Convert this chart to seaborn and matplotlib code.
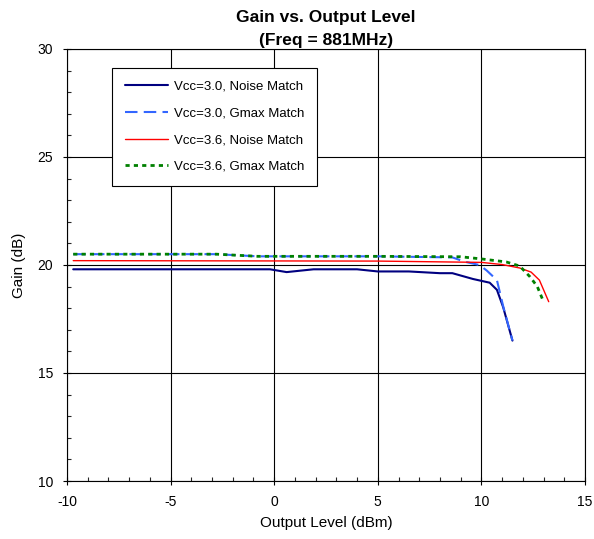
import numpy as np
import pandas as pd
import matplotlib
matplotlib.use("Agg")
import matplotlib.pyplot as plt
import seaborn as sns
from matplotlib.ticker import MultipleLocator

# Vcc=3.0, Noise Match
x_30n = [-9.7, -0.2, 0.6, 1.9, 4.0, 5.0, 6.5, 8.0, 8.6, 9.6, 10.4, 10.75, 11.05, 11.5]
g_30n = [19.8, 19.8, 19.67, 19.8, 19.8, 19.7, 19.7, 19.62, 19.62, 19.35, 19.18, 18.85, 18.05, 16.5]

# Vcc=3.0, Gmax Match
x_30g = [-9.7, -2.8, -0.8, 5.0, 8.6, 9.2, 9.9, 10.25, 10.75, 11.05, 11.5]
g_30g = [20.5, 20.5, 20.4, 20.4, 20.35, 20.15, 20.0, 19.75, 19.3, 18.1, 16.5]

# Vcc=3.6, Noise Match
x_36n = [-9.7, 5.0, 10.0, 11.0, 11.85, 12.4, 12.8, 13.25]
g_36n = [20.2, 20.18, 20.12, 20.02, 19.86, 19.67, 19.3, 18.3]

# Vcc=3.6, Gmax Match
x_36g = [-9.7, -2.8, -0.8, 5.0, 9.0, 10.0, 11.2, 11.85, 12.35, 12.7, 13.0]
g_36g = [20.5, 20.5, 20.4, 20.4, 20.38, 20.28, 20.14, 19.95, 19.45, 19.0, 18.3]

labels = ["Vcc=3.0, Noise Match", "Vcc=3.0, Gmax Match",
          "Vcc=3.6, Noise Match", "Vcc=3.6, Gmax Match"]

sns.set_style("white")
plt.rcParams['font.family'] = ['Liberation Sans', 'DejaVu Sans']
plt.rcParams['axes.unicode_minus'] = False
plt.rcParams['text.color'] = 'black'
plt.rcParams['axes.labelcolor'] = 'black'

fig = plt.figure(figsize=(5.94, 5.39), dpi=100)
ax = fig.add_axes([0.1128, 0.1076, 0.872, 0.8016])

ax.grid(True, which='major', color='black', linewidth=0.8)
ax.set_axisbelow(True)

sns.lineplot(x=x_30n, y=g_30n, ax=ax, color='#000080', lw=1.5, sort=False, label=labels[0])
l2 = sns.lineplot(x=x_30g, y=g_30g, ax=ax, color='#3366ff', lw=1.5, sort=False, label=labels[1]).lines[-1]
l2.set_dashes((6, 3))
sns.lineplot(x=x_36n, y=g_36n, ax=ax, color='#ff0000', lw=1.0, sort=False, label=labels[2])
l4 = sns.lineplot(x=x_36g, y=g_36g, ax=ax, color='#008000', lw=2.0, sort=False, label=labels[3]).lines[-1]
l4.set_dashes((1.5, 1.5))

ax.set_xlim(-10, 15)
ax.set_ylim(10, 30)
ax.xaxis.set_major_locator(MultipleLocator(5))
ax.yaxis.set_major_locator(MultipleLocator(5))
ax.xaxis.set_minor_locator(MultipleLocator(1))
ax.yaxis.set_minor_locator(MultipleLocator(1))
ax.tick_params(which='major', direction='inout', length=6, width=0.8, labelsize=10,
               colors='black', pad=7)
ax.tick_params(which='minor', direction='in', length=3, width=0.8)
ax.tick_params(axis='both', which='both', bottom=True, left=True)
for s in ax.spines.values():
    s.set_color('black')
    s.set_linewidth(0.8)

ax.set_xlabel("Output Level (dBm)", fontsize=11, labelpad=5)
ax.set_ylabel("Gain (dB)", fontsize=11, labelpad=8)
ax.set_title("Gain vs. Output Level\n(Freq = 881MHz)", fontsize=12.5, fontweight='bold',
             linespacing=1.65, pad=3, color='black')

leg = ax.legend(loc='upper left', bbox_to_anchor=(0.087, 0.956), fontsize=9.5,
                frameon=True, fancybox=False, edgecolor='black', framealpha=1,
                handlelength=3.3, labelspacing=1.1, borderpad=0.95, handletextpad=0.45,
                borderaxespad=0)
leg.get_frame().set_linewidth(0.8)

fig.savefig("out.png", dpi=100)
